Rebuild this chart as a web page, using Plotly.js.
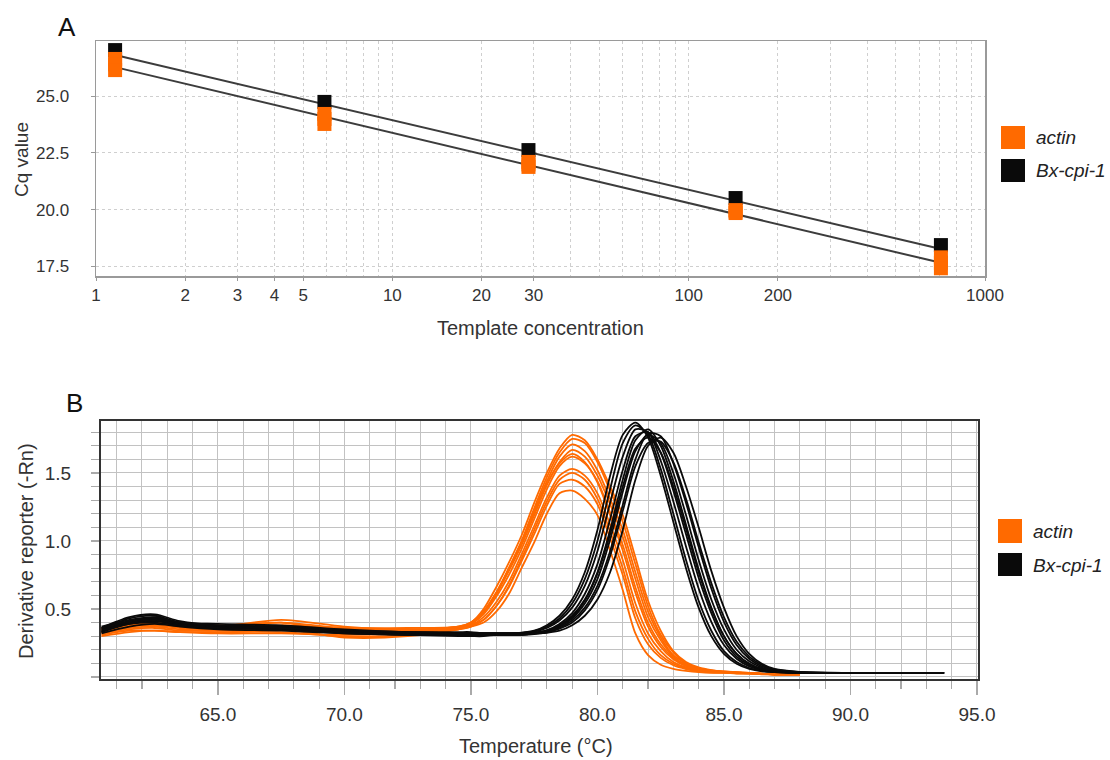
<!DOCTYPE html>
<html>
<head>
<meta charset="utf-8">
<script src="https://cdn.plot.ly/plotly-3.0.1.min.js"></script>
<style>
  html, body { margin: 0; padding: 0; background: #fff; }
  #chart { width: 1110px; height: 760px; }
</style>
</head>
<body>
<div id="chart"></div>
<script>
// ---------- Panel A: standard curve ----------
const seriesNames = ['actin', 'Bx-cpi-1'];
const templateConc = [1.16, 5.9, 28.8, 144, 710];
const actinCqRep1 = [26.63, 24.21, 22.10, 19.98, 17.90];
const actinCqRep2 = [26.39, 23.99, 21.99, 19.92, 17.66];
const actinCqRep3 = [26.14, 23.77, 21.88, 19.85, 17.42];
const bxCq = [27.02, 24.74, 22.62, 20.51, 18.44];
const fitConc = [1.16, 710];
const actinFitCq = [26.27, 17.66];
const bxFitCq = [26.80, 18.27];
const concTicks = [1, 2, 3, 4, 5, 10, 20, 30, 100, 200, 1000];
const concTickText = ['1', '2', '3', '4', '5', '10', '20', '30', '100', '200', '1000'];
const concMinorTicks = [6, 7, 8, 9, 40, 50, 60, 70, 80, 90, 300, 400, 500, 600, 700, 800, 900];
const cqTicks = [17.5, 20.0, 22.5, 25.0];
const cqTickText = ['17.5', '20.0', '22.5', '25.0'];

// ---------- Panel B: melt curves ----------
const temperature = [60.4, 61.5, 62.5, 63.5, 65, 67.5, 70, 72.5, 74.5, 75, 75.5, 76, 76.5, 77, 77.5, 78, 78.5, 79, 79.5, 80, 80.5, 81, 81.5, 82, 82.5, 83, 83.5, 84, 84.5, 85, 85.5, 86, 86.5, 87, 88, 90, 92, 93.7];
const actinMelt1 = [0.35,0.39,0.40,0.38,0.37,0.42,0.37,0.35, 0.37,0.40,0.50,0.66,0.84,1.04,1.28,1.50,1.68,1.78,1.74,1.60,1.40,1.19,0.88,0.56,0.34,0.19,0.11,0.07,0.05,0.04,0.035,0.03,0.025,0.02, 0.02,null,null,null];
const actinMelt2 = [0.33,0.37,0.38,0.36,0.35,0.36,0.34,0.34, 0.37,0.39,0.48,0.62,0.80,0.99,1.22,1.44,1.62,1.71,1.66,1.52,1.31,1.08,0.77,0.48,0.29,0.16,0.10,0.06,0.046,0.038,0.033,0.029,0.024,0.02, 0.02,null,null,null];
const actinMelt3 = [0.31,0.34,0.34,0.33,0.33,0.33,0.30,0.31, 0.36,0.39,0.46,0.59,0.75,0.94,1.16,1.38,1.55,1.62,1.57,1.44,1.21,0.97,0.66,0.40,0.24,0.14,0.085,0.056,0.042,0.036,0.031,0.028,0.023,0.02, 0.02,null,null,null];
const actinMelt4 = [0.36,0.40,0.41,0.39,0.38,0.40,0.36,0.35, 0.36,0.38,0.44,0.55,0.70,0.90,1.11,1.32,1.48,1.53,1.48,1.35,1.12,0.86,0.54,0.32,0.19,0.11,0.07,0.049,0.038,0.034,0.029,0.027,0.022,0.02, 0.02,null,null,null];
const actinMelt5 = [0.32,0.35,0.36,0.34,0.34,0.35,0.29,0.30, 0.35,0.38,0.42,0.52,0.66,0.85,1.05,1.26,1.42,1.45,1.40,1.27,1.02,0.75,0.43,0.24,0.14,0.086,0.058,0.042,0.034,0.032,0.027,0.026,0.021,0.02, 0.02,null,null,null];
const actinMelt6 = [0.34,0.38,0.38,0.37,0.36,0.37,0.35,0.34, 0.35,0.37,0.40,0.48,0.61,0.80,0.99,1.20,1.35,1.37,1.31,1.19,0.93,0.64,0.32,0.16,0.09,0.06,0.045,0.035,0.03,0.03,0.025,0.025,0.02,0.02, 0.02,null,null,null];
const actinMelt7 = [0.34,0.38,0.39,0.37,0.36,0.40,0.33,0.33, 0.36,0.39,0.47,0.61,0.80,1.00,1.24,1.47,1.65,1.75,1.72,1.58,1.37,1.14,0.83,0.52,0.31,0.18,0.10,0.065,0.048,0.04,0.034,0.03,0.025,0.02, 0.02,null,null,null];
const actinMelt8 = [0.35,0.39,0.39,0.37,0.35,0.38,0.36,0.36, 0.37,0.40,0.48,0.61,0.78,0.97,1.19,1.41,1.58,1.67,1.62,1.48,1.27,1.03,0.72,0.44,0.27,0.15,0.09,0.058,0.044,0.037,0.032,0.028,0.023,0.02, 0.02,null,null,null];
const actinMelt9 = [0.30,0.33,0.34,0.33,0.32,0.32,0.31,0.32, 0.35,0.37,0.42,0.52,0.67,0.87,1.08,1.29,1.45,1.50,1.45,1.31,1.07,0.80,0.48,0.28,0.16,0.097,0.063,0.045,0.036,0.033,0.028,0.026,0.022,0.02, 0.02,null,null,null];
const actinMelt10 = [0.33,0.36,0.37,0.35,0.34,0.36,0.32,0.33, 0.36,0.40,0.48,0.62,0.79,0.98,1.20,1.42,1.57,1.64,1.58,1.43,1.19,0.93,0.62,0.37,0.22,0.13,0.08,0.053,0.04,0.035,0.03,0.027,0.022,0.02, 0.02,null,null,null];
const bxMelt1 = [0.36,0.44,0.46,0.41,0.38,0.37,0.34,0.33, 0.33,0.33,0.32,0.32,0.32,0.325,0.34,0.38,0.45,0.57,0.77,1.08,1.48,1.78,1.87,1.76,1.48,1.14,0.80,0.51,0.30,0.17,0.097,0.059,0.041,0.035, 0.03,0.03,0.03,0.03];
const bxMelt2 = [0.34,0.41,0.43,0.39,0.37,0.36,0.34,0.32, 0.32,0.32,0.32,0.32,0.32,0.322,0.333,0.36,0.415,0.51,0.67,0.925,1.28,1.62,1.82,1.80,1.59,1.29,0.96,0.65,0.405,0.235,0.134,0.078,0.05,0.038, 0.032,0.03,0.03,0.03];
const bxMelt3 = [0.33,0.39,0.41,0.38,0.36,0.35,0.33,0.32, 0.32,0.32,0.32,0.32,0.32,0.32,0.325,0.34,0.38,0.45,0.57,0.77,1.08,1.45,1.74,1.82,1.70,1.44,1.12,0.79,0.51,0.30,0.17,0.097,0.059,0.041, 0.032,0.03,0.03,0.03];
const bxMelt4 = [0.37,0.42,0.44,0.40,0.39,0.38,0.35,0.33, 0.32,0.32,0.32,0.32,0.32,0.32,0.322,0.333,0.36,0.415,0.51,0.67,0.925,1.265,1.60,1.79,1.77,1.57,1.28,0.955,0.65,0.405,0.235,0.134,0.078,0.05, 0.035,0.03,0.03,0.03];
const bxMelt5 = [0.32,0.37,0.39,0.37,0.35,0.34,0.32,0.31, 0.30,0.30,0.30,0.31,0.31,0.31,0.32,0.325,0.34,0.38,0.45,0.57,0.77,1.08,1.45,1.70,1.76,1.65,1.40,1.10,0.78,0.51,0.30,0.17,0.097,0.059, 0.037,0.03,0.03,0.03];
const bxMelt6 = [0.35,0.40,0.42,0.39,0.37,0.36,0.33,0.32, 0.31,0.31,0.31,0.31,0.31,0.31,0.32,0.335,0.37,0.44,0.56,0.76,1.05,1.40,1.68,1.76,1.65,1.40,1.09,0.77,0.50,0.30,0.17,0.097,0.059,0.041, 0.032,0.03,0.03,0.03];
const bxMelt7 = [0.35,0.43,0.45,0.40,0.37,0.36,0.33,0.32, 0.32,0.32,0.32,0.32,0.32,0.324,0.337,0.37,0.43,0.54,0.72,1.00,1.38,1.72,1.85,1.78,1.53,1.20,0.86,0.56,0.34,0.19,0.11,0.066,0.045,0.036, 0.03,0.03,0.03,0.03];
const bxMelt8 = [0.33,0.40,0.42,0.38,0.36,0.35,0.32,0.31, 0.31,0.31,0.31,0.31,0.31,0.315,0.325,0.345,0.39,0.47,0.61,0.83,1.16,1.52,1.77,1.80,1.65,1.37,1.05,0.73,0.47,0.27,0.15,0.088,0.055,0.04, 0.032,0.03,0.03,0.03];
const bxMelt9 = [0.36,0.41,0.43,0.40,0.38,0.37,0.34,0.33, 0.32,0.32,0.32,0.32,0.32,0.32,0.323,0.336,0.37,0.43,0.54,0.72,1.01,1.36,1.66,1.78,1.72,1.50,1.19,0.86,0.57,0.35,0.20,0.115,0.068,0.045, 0.034,0.03,0.03,0.03];
const bxMelt10 = [0.34,0.39,0.40,0.38,0.36,0.36,0.33,0.31, 0.31,0.31,0.31,0.31,0.31,0.31,0.315,0.328,0.355,0.40,0.49,0.64,0.89,1.22,1.55,1.72,1.73,1.58,1.31,0.99,0.69,0.44,0.26,0.15,0.088,0.055, 0.036,0.03,0.03,0.03];
const tempTicks = [65, 70, 75, 80, 85, 90, 95];
const tempTickText = ['65.0', '70.0', '75.0', '80.0', '85.0', '90.0', '95.0'];
const derivTicks = [0.5, 1.0, 1.5];
const derivTickText = ['0.5', '1.0', '1.5'];

const ORANGE = '#ff6a00';
const BLACK = '#0a0a0a';

const traces = [];
// fit lines (panel A)
traces.push({x: fitConc, y: bxFitCq, mode: 'lines', line: {color: '#3c3c3c', width: 2}, xaxis: 'x', yaxis: 'y', hoverinfo: 'skip'});
traces.push({x: fitConc, y: actinFitCq, mode: 'lines', line: {color: '#3c3c3c', width: 2}, xaxis: 'x', yaxis: 'y', hoverinfo: 'skip'});
// Bx markers, then actin replicates on top
traces.push({x: templateConc, y: bxCq, name: seriesNames[1], mode: 'markers', marker: {symbol: 'square', size: 14, color: BLACK, line: {width: 0}}, xaxis: 'x', yaxis: 'y', cliponaxis: false});
[actinCqRep1, actinCqRep2, actinCqRep3].forEach(function (rep) {
  traces.push({x: templateConc, y: rep, name: seriesNames[0], mode: 'markers', marker: {symbol: 'square', size: 14, color: ORANGE, line: {width: 0}}, xaxis: 'x', yaxis: 'y', cliponaxis: false});
});
// melt curves (panel B)
[actinMelt1, actinMelt7, actinMelt2, actinMelt8, actinMelt10, actinMelt3, actinMelt4, actinMelt9, actinMelt5, actinMelt6].forEach(function (c) {
  traces.push({x: temperature, y: c, name: seriesNames[0], mode: 'lines', line: {color: ORANGE, width: 1.8, shape: 'spline', smoothing: 0.8}, xaxis: 'x2', yaxis: 'y2'});
});
[bxMelt1, bxMelt7, bxMelt2, bxMelt8, bxMelt3, bxMelt6, bxMelt9, bxMelt4, bxMelt10, bxMelt5].forEach(function (c) {
  traces.push({x: temperature, y: c, name: seriesNames[1], mode: 'lines', line: {color: BLACK, width: 1.8, shape: 'spline', smoothing: 0.8}, xaxis: 'x2', yaxis: 'y2'});
});

const W = 1110, H = 760;
const px = v => v / W;
const py = v => 1 - v / H;
const FONT = 'Liberation Sans, Arial, Helvetica, sans-serif';

const layout = {
  width: W, height: H,
  margin: {l: 0, r: 0, t: 0, b: 0},
  paper_bgcolor: '#ffffff', plot_bgcolor: '#ffffff',
  showlegend: false,
  font: {family: FONT, color: '#333333'},
  xaxis: {
    domain: [px(96), px(985)], anchor: 'y', type: 'log', range: [0, 3],
    tickmode: 'array', tickvals: concTicks, ticktext: concTickText,
    ticks: 'outside', ticklen: 3, tickwidth: 1, tickcolor: '#999999',
    showline: true, linecolor: '#9a9a9a', linewidth: 1.5, mirror: true,
    showgrid: true, gridcolor: '#cfcfcf', griddash: 'dot', gridwidth: 1,
    minor: {tickmode: 'array', tickvals: concMinorTicks, showgrid: true, gridcolor: '#cfcfcf', griddash: 'dot', gridwidth: 1, ticks: ''},
    zeroline: false, tickfont: {size: 17, color: '#333333'}, ticklabelstandoff: 0, fixedrange: true
  },
  yaxis: {
    domain: [py(276), py(41)], anchor: 'x', range: [17.08, 27.42],
    tickmode: 'array', tickvals: cqTicks, ticktext: cqTickText,
    ticks: 'outside', ticklen: 4, tickwidth: 1, tickcolor: '#999999',
    showline: true, linecolor: '#9a9a9a', linewidth: 1.5, mirror: true,
    showgrid: true, gridcolor: '#cfcfcf', griddash: 'dot', gridwidth: 1,
    zeroline: false, tickfont: {size: 17, color: '#333333'}, ticklabelstandoff: 18, fixedrange: true
  },
  xaxis2: {
    domain: [px(101), px(978)], anchor: 'y2', range: [60.38, 95.04],
    tickmode: 'array', tickvals: tempTicks, ticktext: tempTickText,
    ticks: 'outside', ticklen: 14, tickwidth: 1.2, tickcolor: '#aaaaaa',
    showline: true, linecolor: '#333333', linewidth: 2, mirror: true,
    showgrid: true, gridcolor: '#c2c2c2', gridwidth: 1,
    minor: {tick0: 0, dtick: 1, showgrid: true, gridcolor: '#c2c2c2', gridwidth: 1, ticks: 'outside', ticklen: 8, tickcolor: '#aaaaaa', tickwidth: 1.2},
    zeroline: false, tickfont: {size: 19, color: '#333333'}, ticklabelstandoff: 3, fixedrange: true
  },
  yaxis2: {
    domain: [py(679), py(421)], anchor: 'x2', range: [-0.015, 1.882],
    tickmode: 'array', tickvals: derivTicks, ticktext: derivTickText,
    ticks: 'outside', ticklen: 8, tickwidth: 1.2, tickcolor: '#aaaaaa',
    showline: true, linecolor: '#333333', linewidth: 2, mirror: true,
    showgrid: true, gridcolor: '#c2c2c2', gridwidth: 1,
    minor: {tick0: 0, dtick: 0.1, showgrid: true, gridcolor: '#c2c2c2', gridwidth: 1, ticks: 'outside', ticklen: 8, tickcolor: '#aaaaaa', tickwidth: 1.2},
    zeroline: false, tickfont: {size: 19, color: '#333333'}, ticklabelstandoff: 16, fixedrange: true
  },
  shapes: [
    {type: 'rect', xref: 'paper', yref: 'paper', x0: px(1001), x1: px(1025), y0: py(149), y1: py(126), fillcolor: ORANGE, line: {width: 0}},
    {type: 'rect', xref: 'paper', yref: 'paper', x0: px(1001), x1: px(1025), y0: py(182), y1: py(159), fillcolor: BLACK, line: {width: 0}},
    {type: 'rect', xref: 'paper', yref: 'paper', x0: px(998), x1: px(1022), y0: py(543), y1: py(519), fillcolor: ORANGE, line: {width: 0}},
    {type: 'rect', xref: 'paper', yref: 'paper', x0: px(998), x1: px(1022), y0: py(576), y1: py(553), fillcolor: BLACK, line: {width: 0}}
  ],
  annotations: [
    {text: 'A', x: px(67), y: py(27), xref: 'paper', yref: 'paper', showarrow: false, xanchor: 'center', yanchor: 'middle', font: {size: 26, color: '#111'}},
    {text: 'B', x: px(74), y: py(403), xref: 'paper', yref: 'paper', showarrow: false, xanchor: 'center', yanchor: 'middle', font: {size: 26, color: '#111'}},
    {text: 'Cq value', x: px(21), y: py(160), xref: 'paper', yref: 'paper', showarrow: false, textangle: -90, xanchor: 'center', yanchor: 'middle', font: {size: 19, color: '#333'}},
    {text: 'Template concentration', x: px(540), y: py(328), xref: 'paper', yref: 'paper', showarrow: false, xanchor: 'center', yanchor: 'middle', font: {size: 20, color: '#333'}},
    {text: 'Derivative reporter (-Rn)', x: px(26), y: py(551), xref: 'paper', yref: 'paper', showarrow: false, textangle: -90, xanchor: 'center', yanchor: 'middle', font: {size: 20, color: '#333'}},
    {text: 'Temperature (°C)', x: px(536), y: py(746), xref: 'paper', yref: 'paper', showarrow: false, xanchor: 'center', yanchor: 'middle', font: {size: 20, color: '#333'}},
    {text: '<i>' + seriesNames[0] + '</i>', x: px(1034), y: py(137), xref: 'paper', yref: 'paper', showarrow: false, xanchor: 'left', yanchor: 'middle', font: {size: 19, color: '#222'}},
    {text: '<i>' + seriesNames[1] + '</i>', x: px(1034), y: py(171), xref: 'paper', yref: 'paper', showarrow: false, xanchor: 'left', yanchor: 'middle', font: {size: 19, color: '#222'}},
    {text: '<i>' + seriesNames[0] + '</i>', x: px(1031), y: py(531), xref: 'paper', yref: 'paper', showarrow: false, xanchor: 'left', yanchor: 'middle', font: {size: 19, color: '#222'}},
    {text: '<i>' + seriesNames[1] + '</i>', x: px(1031), y: py(565), xref: 'paper', yref: 'paper', showarrow: false, xanchor: 'left', yanchor: 'middle', font: {size: 19, color: '#222'}}
  ]
};

Plotly.newPlot('chart', traces, layout, {displayModeBar: false, staticPlot: true});
</script>
</body>
</html>
